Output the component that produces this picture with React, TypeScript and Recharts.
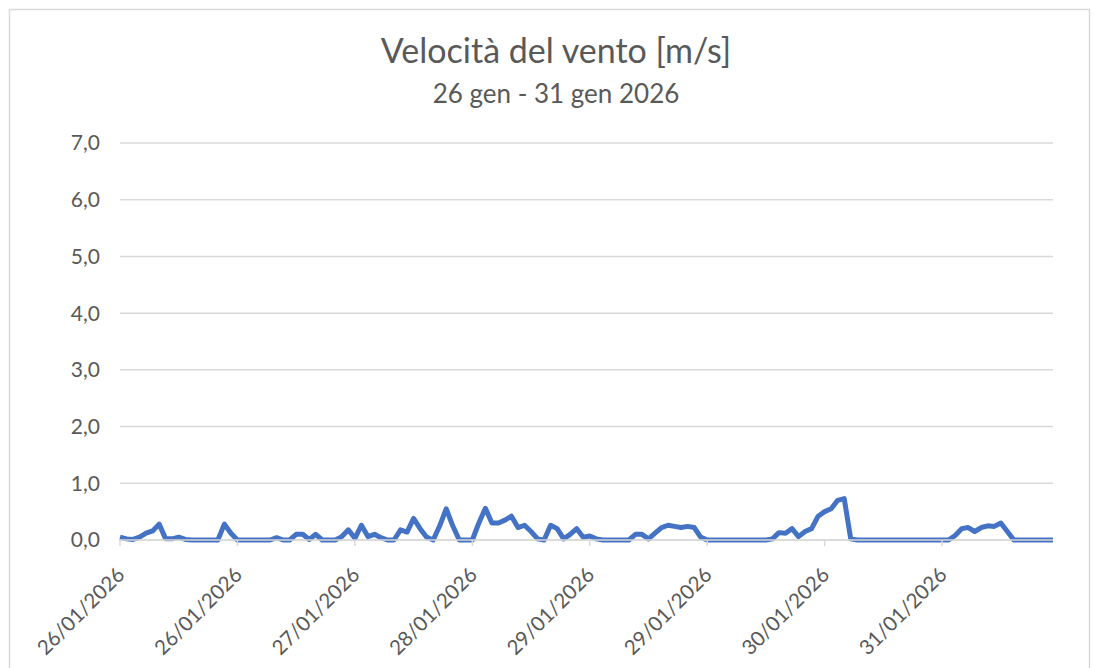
import React from 'react';
import { LineChart, Line, XAxis, YAxis, CartesianGrid } from 'recharts';

// giorni del periodo (una riga ogni ora)
const days = ['26/01/2026', '27/01/2026', '28/01/2026', '29/01/2026', '30/01/2026', '31/01/2026'];

// velocità del vento [m/s], 24 valori orari per giorno
const day26 = [0.05, 0.02, 0.01, 0.05, 0.12, 0.16, 0.28, 0.02, 0.02, 0.05, 0.01, 0, 0, 0, 0, 0, 0.28, 0.12, 0, 0, 0, 0, 0, 0];
const day27 = [0.04, 0, 0, 0.1, 0.1, 0.01, 0.1, 0, 0, 0, 0.06, 0.18, 0.03, 0.26, 0.06, 0.1, 0.04, 0, 0, 0.18, 0.14, 0.38, 0.2, 0.05];
const day28 = [0, 0.25, 0.55, 0.25, 0, 0, 0, 0.3, 0.56, 0.3, 0.3, 0.35, 0.42, 0.22, 0.26, 0.15, 0.02, 0, 0.26, 0.2, 0.02, 0.1, 0.2, 0.05];
const day29 = [0.07, 0.02, 0, 0, 0, 0, 0, 0.1, 0.1, 0.02, 0.12, 0.22, 0.26, 0.24, 0.22, 0.24, 0.22, 0.05, 0, 0, 0, 0, 0, 0];
const day30 = [0, 0, 0, 0, 0.02, 0.13, 0.12, 0.2, 0.06, 0.15, 0.2, 0.42, 0.5, 0.55, 0.7, 0.73, 0.02, 0, 0, 0, 0, 0, 0, 0];
const day31 = [0, 0, 0, 0, 0, 0, 0, 0, 0.08, 0.2, 0.22, 0.15, 0.22, 0.25, 0.24, 0.3, 0.15, 0, 0, 0, 0, 0, 0, 0];

const dailyValues = [day26, day27, day28, day29, day30, day31];
const yTicks = [0, 1, 2, 3, 4, 5, 6, 7];

const title = 'Velocità del vento [m/s]';
const subtitle = '26 gen - 31 gen 2026';

const data = days.flatMap((d, di) =>
  dailyValues[di].map((v, h) => ({ time: `${d} ${h}:00`, speed: v }))
);

const FONT = 'Lato, "Open Sans", sans-serif';
const TEXT = '#595959';
const GRID = '#d9d9d9';

const DateTick = (props: any) => {
  const { x, y, payload } = props;
  const label = String(payload.value).split(' ')[0];
  return (
    <g transform={`translate(${x + 6},${y + 28})`}>
      <text textAnchor="end" transform="rotate(-45)" fill={TEXT} fontSize={20.5} fontFamily={FONT}>
        {label}
      </text>
    </g>
  );
};

const App: React.FC = () => {
  return (
    <div style={{ position: 'absolute', left: 0, top: 0, width: 1094, height: 668, background: '#fff', overflow: 'hidden' }}>
      <svg width={1094} height={668} style={{ position: 'absolute', left: 0, top: 0 }}>
        <rect x={9.5} y={9.5} width={1080} height={700} fill="none" stroke={GRID} strokeWidth={1.5} />
        <text x={556} y={63} textAnchor="middle" fontSize={34} fill={TEXT} fontFamily={FONT}>
          {title}
        </text>
        <text x={556} y={103} textAnchor="middle" fontSize={26} fill={TEXT} fontFamily={FONT}>
          {subtitle}
        </text>
      </svg>
      <div style={{ position: 'absolute', left: 0, top: 0 }}>
        <LineChart width={1094} height={668} data={data} margin={{ top: 143, right: 41, bottom: 0, left: 0 }}>
          <CartesianGrid vertical={false} stroke={GRID} strokeWidth={1.5} />
          <XAxis
            dataKey="time"
            interval={17}
            height={128}
            tick={<DateTick />}
            tickSize={6}
            tickLine={{ stroke: GRID, strokeWidth: 1.5 }}
            axisLine={{ stroke: GRID, strokeWidth: 1.5 }}
          />
          <YAxis
            width={120}
            domain={[0, 7]}
            ticks={yTicks}
            axisLine={false}
            tickLine={false}
            tickSize={0}
            tickMargin={20}
            tick={{ fill: TEXT, fontSize: 21, fontFamily: FONT }}
            tickFormatter={(v: number) => v.toFixed(1).replace('.', ',')}
          />
          <Line
            type="linear"
            dataKey="speed"
            stroke="#4472C4"
            strokeWidth={5}
            strokeLinejoin="round"
            dot={false}
            isAnimationActive={false}
          />
        </LineChart>
      </div>
    </div>
  );
};

export default App;
